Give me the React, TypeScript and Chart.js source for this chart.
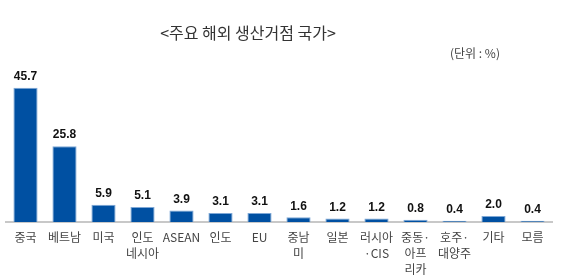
import React, { useEffect, useRef } from "react";
import { Chart, registerables } from "chart.js";

Chart.register(...registerables);

const categories: (string | string[])[] = [
  "중국",
  "베트남",
  "미국",
  ["인도", "네시아"],
  "ASEAN",
  "인도",
  "EU",
  ["중남", "미"],
  "일본",
  ["러시아", "·CIS"],
  ["중동·", "아프", "리카"],
  ["호주·", "대양주"],
  "기타",
  "모름",
];
const values: number[] = [45.7, 25.8, 5.9, 5.1, 3.9, 3.1, 3.1, 1.6, 1.2, 1.2, 0.8, 0.4, 2.0, 0.4];
const valueLabels: string[] = ["45.7", "25.8", "5.9", "5.1", "3.9", "3.1", "3.1", "1.6", "1.2", "1.2", "0.8", "0.4", "2.0", "0.4"];

const labelPlugin = {
  id: "valueLabels",
  afterDatasetsDraw(chart: any) {
    const ctx = chart.ctx;
    const meta = chart.getDatasetMeta(0);
    ctx.save();
    ctx.font = "bold 12px Arial, 'Liberation Sans', sans-serif";
    ctx.fillStyle = "#111";
    ctx.textAlign = "center";
    ctx.textBaseline = "bottom";
    meta.data.forEach((bar: any, i: number) => {
      ctx.fillText(valueLabels[i], bar.x, bar.y - 5);
    });
    ctx.restore();
  },
};

export default function App() {
  const ref = useRef<HTMLCanvasElement>(null);
  useEffect(() => {
    if (!ref.current) return;
    const chart = new Chart(ref.current, {
      type: "bar",
      data: {
        labels: categories,
        datasets: [
          {
            data: values,
            backgroundColor: "#0050A2",
            borderColor: "#7FA8D6",
            borderWidth: 1,
            barPercentage: 0.62,
            categoryPercentage: 1,
          },
        ],
      },
      options: {
        animation: false,
        responsive: false,
        maintainAspectRatio: false,
        layout: { padding: { left: 6, right: 35, top: 75, bottom: 0 } },
        plugins: {
          legend: { display: false },
          tooltip: { enabled: false },
          title: { display: false },
        },
        scales: {
          y: { display: false, min: 0, max: 50 },
          x: {
            grid: { display: false, drawTicks: false },
            border: { display: true, color: "#c8c8c8", width: 2 },
            ticks: {
              color: "#444",
              font: { size: 12, family: "'Noto Sans CJK KR', sans-serif", lineHeight: 1.3 },
              padding: 8,
              maxRotation: 0,
              autoSkip: false,
            },
            afterFit: (axis: any) => {
              axis.height = 56;
            },
          },
        },
      },
      plugins: [labelPlugin],
    });
    return () => chart.destroy();
  }, []);
  return (
    <div style={{ position: "fixed", left: 0, top: 0, width: 587, height: 278, background: "#fff" }}>
      <canvas ref={ref} width={587} height={278} style={{ position: "absolute", left: 0, top: 0 }} />
      <div
        style={{
          position: "absolute",
          left: 248,
          top: 22,
          transform: "translateX(-50%)",
          whiteSpace: "nowrap",
          fontFamily: "'Noto Sans CJK KR', sans-serif",
          fontSize: 16,
          lineHeight: "20px",
          color: "#333",
        }}
      >
        &lt;주요 해외 생산거점 국가&gt;
      </div>
      <div
        style={{
          position: "absolute",
          left: 450,
          top: 46,
          whiteSpace: "nowrap",
          fontFamily: "'Noto Sans CJK KR', sans-serif",
          fontSize: 12,
          lineHeight: "14px",
          color: "#444",
        }}
      >
        (단위 : %)
      </div>
    </div>
  );
}
